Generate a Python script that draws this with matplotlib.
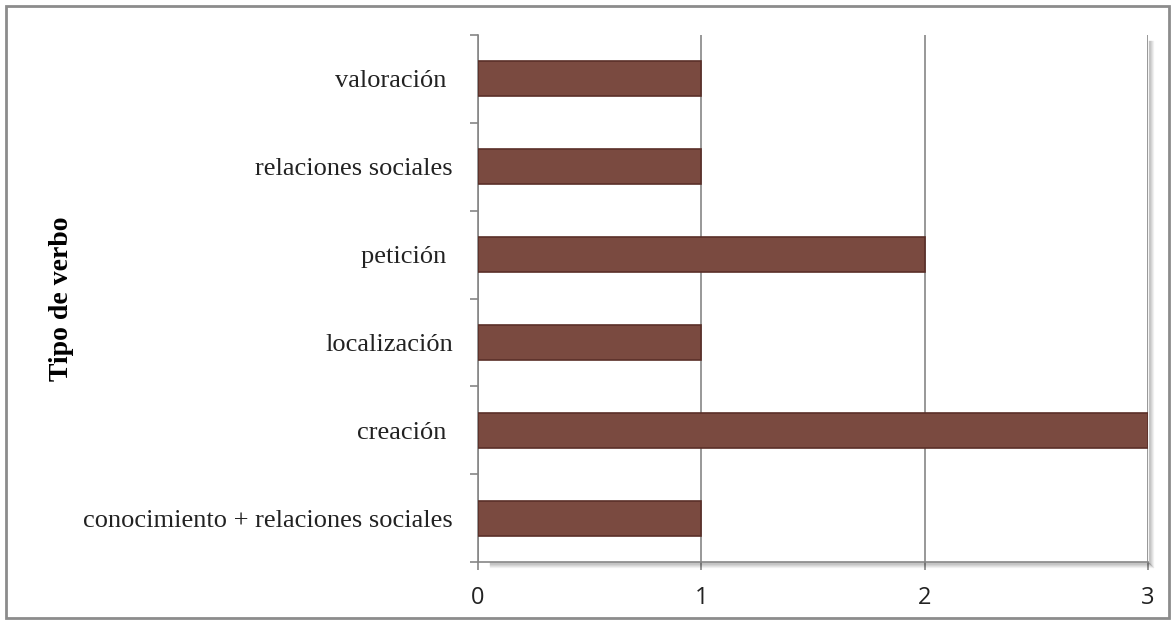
import matplotlib.pyplot as plt
from matplotlib.patches import Rectangle
from matplotlib.lines import Line2D

categorias = ['conocimiento + relaciones sociales', 'creación ', 'localización',
              'petición ', 'relaciones sociales', 'valoración ']
valores = [1, 3, 1, 2, 1, 1]
ticks_x = [0, 1, 2, 3]

fig = plt.figure(figsize=(11.75, 6.25), dpi=100)
x0, x1, y0, y1 = 0.4068, 0.977, 0.1008, 0.944
ax = fig.add_axes([x0, y0, x1 - x0, y1 - y0])

# borde exterior del grafico
fig.patches.append(Rectangle((0.005, 0.011), 0.99, 0.98, transform=fig.transFigure,
                             fill=False, edgecolor='#8c8c8c', linewidth=2))

# sombra suave del area de trazado (abajo y derecha)
for k in range(1, 6):
    a = 0.25 * (1 - k / 6)
    dx, dy = k / 1175, k / 625
    fig.lines.append(Line2D([x0 + 0.01, x1 + dx], [y0 - dy, y0 - dy], transform=fig.transFigure,
                            color='black', alpha=a, linewidth=1))
    fig.lines.append(Line2D([x1 + dx, x1 + dx], [y0 - dy, y1 - 0.01], transform=fig.transFigure,
                            color='black', alpha=a, linewidth=1))

pos = range(len(categorias))
ax.barh(pos, valores, height=0.4, color='#7a4a40', edgecolor='#5a2f28', linewidth=1.2, zorder=3)

ax.set_xlim(0, 3)
ax.set_ylim(-0.5, len(categorias) - 0.5)
ax.set_xticks(ticks_x)
ax.set_xticklabels([str(t) for t in ticks_x], fontsize=17, family='Open Sans', color='#222222')
ax.set_yticks(list(pos))
ax.set_yticklabels(categorias, fontsize=19, family='Liberation Serif', color='#222222')
ax.set_yticks([i - 0.5 for i in range(len(categorias) + 1)], minor=True)
ax.tick_params(axis='y', which='major', length=0, pad=18)
ax.tick_params(axis='y', which='minor', length=6, color='#868686', width=1.2, direction='out')
ax.tick_params(axis='x', length=6, color='#868686', width=1.2, pad=11)

ax.grid(axis='x', color='#868686', linewidth=1.2, zorder=0)
for s in ['top', 'right']:
    ax.spines[s].set_visible(False)
for s in ['left', 'bottom']:
    ax.spines[s].set_color('#868686')
    ax.spines[s].set_linewidth(1.2)

ax.set_ylabel('Tipo de verbo', fontsize=20, family='Liberation Serif', fontweight='bold')
ax.yaxis.set_label_coords((74 - 478) / 670, 0.5)

fig.savefig('out.png', dpi=100)
